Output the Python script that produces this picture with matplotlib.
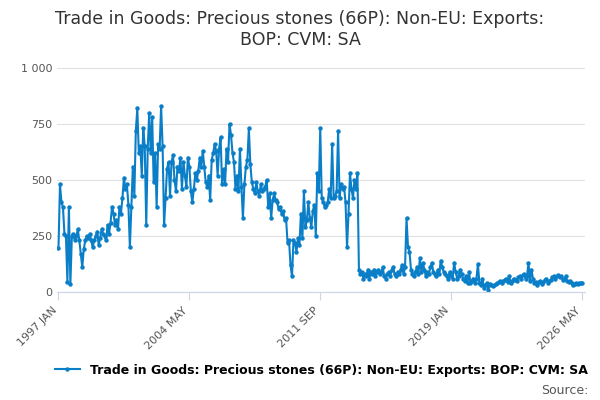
import numpy as np
import matplotlib.pyplot as plt

def get_values() -> dict:
    # monthly values, one list per year
    values = {
        1997: [195, 480, 400, 380, 260, 250, 45, 380, 35, 250, 260, 230],
        1998: [250, 280, 230, 170, 110, 190, 230, 250, 240, 260, 230, 200],
        1999: [230, 250, 270, 210, 240, 280, 260, 250, 230, 300, 260, 310],
        2000: [380, 350, 300, 320, 280, 380, 350, 420, 510, 460, 480, 390],
        2001: [200, 380, 560, 430, 720, 820, 620, 650, 520, 730, 650, 300],
        2002: [640, 800, 620, 780, 490, 620, 380, 660, 640, 830, 650, 300],
        2003: [420, 550, 580, 430, 580, 610, 500, 450, 560, 540, 600, 460],
        2004: [580, 520, 470, 600, 560, 450, 400, 460, 530, 500, 540, 600],
        2005: [560, 630, 560, 490, 470, 520, 410, 590, 620, 660, 630, 520],
        2006: [640, 690, 480, 550, 480, 640, 580, 750, 700, 620, 580, 460],
        2007: [520, 450, 640, 470, 330, 480, 560, 590, 730, 570, 490, 460],
        2008: [440, 490, 450, 430, 480, 450, 460, 470, 500, 380, 440, 330],
        2009: [410, 440, 410, 400, 370, 380, 350, 360, 320, 330, 220, 230],
        2010: [120, 70, 230, 220, 180, 240, 210, 350, 240, 450, 290, 320],
        2011: [400, 330, 290, 360, 390, 250, 530, 450, 730, 420, 400, 380],
        2012: [390, 400, 460, 420, 660, 420, 430, 450, 720, 420, 480, 460],
        2013: [470, 400, 200, 350, 530, 460, 420, 500, 460, 530, 100, 80],
        2014: [90, 60, 80, 70, 100, 60, 90, 80, 100, 70, 90, 100],
        2015: [80, 90, 110, 70, 60, 80, 90, 70, 100, 110, 80, 70],
        2016: [90, 80, 100, 120, 80, 110, 330, 200, 180, 100, 80, 70],
        2017: [90, 110, 80, 150, 90, 130, 100, 70, 90, 80, 110, 130],
        2018: [90, 80, 70, 100, 80, 140, 110, 90, 80, 70, 60, 90],
        2019: [70, 60, 130, 90, 60, 70, 100, 80, 60, 50, 70, 40],
        2020: [90, 40, 50, 60, 40, 60, 125, 40, 30, 60, 20, 30],
        2021: [40, 10, 35, 30, 25, 30, 35, 40, 45, 50, 40, 50],
        2022: [55, 60, 45, 70, 40, 50, 60, 55, 50, 65, 70, 60],
        2023: [75, 80, 60, 70, 130, 50, 100, 60, 40, 45, 30, 45],
        2024: [50, 35, 45, 55, 60, 40, 50, 55, 65, 70, 60, 70],
        2025: [75, 65, 70, 55, 60, 70, 50, 45, 50, 40, 30, 35],
        2026: [40, 35, 38, 42, 40],
    }
    return values

def plot_values(values) -> None:
    series = np.array([v for year in values for v in values[year]])
    months = ['JAN', 'FEB', 'MAR', 'APR', 'MAY', 'JUN', 'JUL', 'AUG', 'SEP', 'OCT', 'NOV', 'DEC']
    labels = [f'{year} {months[i]}' for year in values for i in range(len(values[year]))]
    x = np.arange(len(series))

    fig = plt.figure(figsize=(6, 4), dpi=100)
    ax = plt.axes([0.095, 0.27, 0.88, 0.56])
    title = 'Trade in Goods: Precious stones (66P): Non-EU: Exports:\nBOP: CVM: SA'
    fig.suptitle(title, fontsize=12.5, color='#333333', y=0.975)
    plt.plot(x, series, color='#0a7fc7', linewidth=1.5, marker='o', markersize=2.2)

    ticks = list(range(0, len(series), 88))
    plt.xticks(ticks, [labels[t] for t in ticks], rotation=45, ha='right', fontsize=8, color='#555555')
    plt.yticks([0, 250, 500, 750, 1000], ['0', '250', '500', '750', '1 000'], fontsize=8, color='#555555')
    plt.ylim(0, 1000)
    plt.xlim(-1, len(series) + 1)
    ax.grid(axis='y', color='#e0e0e0', linewidth=0.8)
    ax.set_axisbelow(True)
    for side in ['left', 'right', 'top']:
        ax.spines[side].set_visible(False)
    ax.spines['bottom'].set_color('#ccd6eb')
    ax.tick_params(axis='y', length=0)
    ax.tick_params(axis='x', color='#ccd6eb', length=6)

    plt.legend(['Trade in Goods: Precious stones (66P): Non-EU: Exports: BOP: CVM: SA'],
               loc='upper center', bbox_to_anchor=(0.5, -0.27), frameon=False,
               fontsize=9, prop={'weight': 'bold', 'size': 9})
    fig.text(0.98, 0.015, 'Source:', ha='right', fontsize=9, color='#555555')
    plt.savefig('out.png')

def main():
    values = get_values()
    plot_values(values)


if __name__ == '__main__':
    main()
